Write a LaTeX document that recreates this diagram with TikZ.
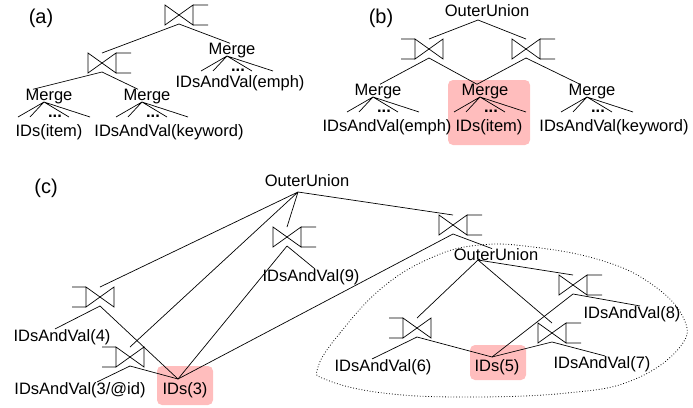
\documentclass[tikz,border=0pt]{standalone}
\usepackage{fontspec}
\setmainfont{Liberation Sans}
\usetikzlibrary{positioning}
\definecolor{hlpink}{RGB}{255,189,189}
\tikzset{
  joinR/.pic={
    \draw (-14,-10) -- (14,10) -- (14,-10) -- (-14,10) -- cycle
          (14,-10) -- (29,-10) (14,10) -- (29,10);
    \coordinate (-t) at (0,-10);
    \coordinate (-a) at (0,9);
  },
  joinL/.pic={
    \draw (-14,-10) -- (14,10) -- (14,-10) -- (-14,10) -- cycle
          (-14,-10) -- (-28,-10) (-14,10) -- (-28,10);
    \coordinate (-t) at (0,-10);
    \coordinate (-a) at (0,9);
  },
  merge/.pic={
    \node[lbl] (-n) {Merge};
    \coordinate (-a) at (-5,5);
    \draw (-a) -- ++(-26,15) (-a) -- ++(-14,15) (-a) -- ++(25,15) (-a) -- ++(46,15);
    \node[dots] (-d) at (6,19) {...};
  },
}
\begin{document}
\begin{tikzpicture}[x=1pt,y=-1pt,line width=0.7pt,
    lbl/.style={inner sep=0pt,font=\fontsize{16.5}{19}\selectfont},
    tag/.style={inner sep=0pt,font=\fontsize{20}{24}\selectfont},
    hl/.style={fill=hlpink,rounded corners=5pt},
    dots/.style={inner sep=0pt,font=\fontsize{16.5}{19}\selectfont\bfseries}]

  \useasboundingbox (0,0) rectangle (693,407);
  \fill[hl] (448,80) rectangle (530,145);
  \fill[hl] (157,366) rectangle (213,405);
  \fill[hl] (470,345) rectangle (526,380);

  % (a)
  \node[tag] (ta) at (41,18) {(a)};
  \pic (ja1) at (179,15) {joinR};
  \pic (ja2) at (102,63) {joinR};
  \pic (ma1) at (49,97) {merge};
  \pic (ma2) at (147,97) {merge};
  \pic (ma3) at (232,51) {merge};
  \node[lbl] (ia1) at (49,132) {IDs(item)};
  \node[lbl] (ia2) at (169,132) {IDsAndVal(keyword)};
  \node[lbl] (ia3) at (240,83) {IDsAndVal(emph)};
  \draw (ja1-a) -- (ja2-t) (ja1-a) -- ([xshift=-2]ma3-n.north);
  \draw (ja2-a) -- ([xshift=-16]ma1-n.north) (ja2-a) -- ([xshift=-9]ma2-n.north);

  % (b)
  \node[tag] (tb) at (381,18) {(b)};
  \node[lbl] (oub) at (487,11) {OuterUnion};
  \coordinate (oub-a) at (478,20);
  \pic (jb1) at (429,49) {joinL};
  \pic (jb2) at (526,49) {joinR};
  \pic (mb1) at (378,92) {merge};
  \pic (mb2) at (485,92) {merge};
  \pic (mb3) at (592,92) {merge};
  \node[lbl] (ib1) at (387,127) {IDsAndVal(emph)};
  \node[lbl] (ib2) at (489,127) {IDs(item)};
  \node[lbl] (ib3) at (614,127) {IDsAndVal(keyword)};
  \draw (oub-a) -- (jb1-t) (oub-a) -- (jb2-t);
  \draw (jb1-a) -- ([xshift=2]mb1-n.north) (jb1-a) -- ([xshift=-8]mb2-n.north);
  \draw (jb2-a) -- ([xshift=-8]mb2-n.north) (jb2-a) -- ([xshift=-12]mb3-n.north);

  % (c)
  \node[tag] (tc) at (46,188) {(c)};
  \node[lbl] (ouc) at (307,181) {OuterUnion};
  \coordinate (ouc-a) at (298,192);
  \pic (jc4) at (100,297) {joinL};
  \pic (jc3) at (130,357) {joinL};
  \pic (jc9) at (287,237) {joinR};
  \pic (jcr) at (453,225) {joinR};
  \node[lbl] (ouc2) at (496,255) {OuterUnion};
  \coordinate (ouc2-a) at (478,260);
  \pic (jc6) at (417,328) {joinL};
  \pic (jc7) at (552,333) {joinR};
  \pic (jc8) at (573,285) {joinR};
  \node[lbl] (ic4) at (62,337) {IDsAndVal(4)};
  \node[lbl] (ic3) at (80,390) {IDsAndVal(3/@id)};
  \node[lbl] (ids3) at (185,390) {IDs(3)};
  \coordinate (ids3-a) at (178,379);
  \node[lbl] (ic9) at (311,277) {IDsAndVal(9)};
  \node[lbl] (ic6) at (383,367) {IDsAndVal(6)};
  \node[lbl] (ids5) at (497,367) {IDs(5)};
  \coordinate (ids5-a) at (492,357);
  \node[lbl] (ic7) at (602,364) {IDsAndVal(7)};
  \node[lbl] (ic8) at (632,314) {IDsAndVal(8)};
  \draw (ouc-a) -- (jc4-t) (ouc-a) -- (jc3-t) (ouc-a) -- (jc9-t) (ouc-a) -- (jcr-t);
  \draw (jc4-a) -- ([xshift=-7]ic4.north) (jc4-a) -- (ids3-a);
  \draw (jc3-a) -- ([xshift=17]ic3.north) (jc3-a) -- (ids3-a);
  \draw (jc9-a) -- (ids3-a) (jc9-a) -- ([xshift=4]ic9.north);
  \draw (jcr-a) -- (ids3-a) (jcr-a) -- ([xshift=-4]ouc2.north);
  \draw (ouc2-a) -- (jc6-t) (ouc2-a) -- (jc7-t) (ouc2-a) -- (jc8-t);
  \draw (jc6-a) -- ([xshift=-11]ic6.north) (jc6-a) -- (ids5-a);
  \draw (jc7-a) -- (ids5-a) (jc7-a) -- ([xshift=3]ic7.north);
  \draw (jc8-a) -- (ids5-a) (jc8-a) -- ([xshift=8]ic8.north);
  \draw[dotted,line width=0.8pt] plot[smooth cycle,tension=0.7] coordinates {
    (318,367) (340,333) (383,287) (433,257) (480,245) (533,247) (600,260)
    (650,283) (683,317) (680,347) (633,380) (567,393) (467,397) (383,393) (327,380)};
\end{tikzpicture}
\end{document}
